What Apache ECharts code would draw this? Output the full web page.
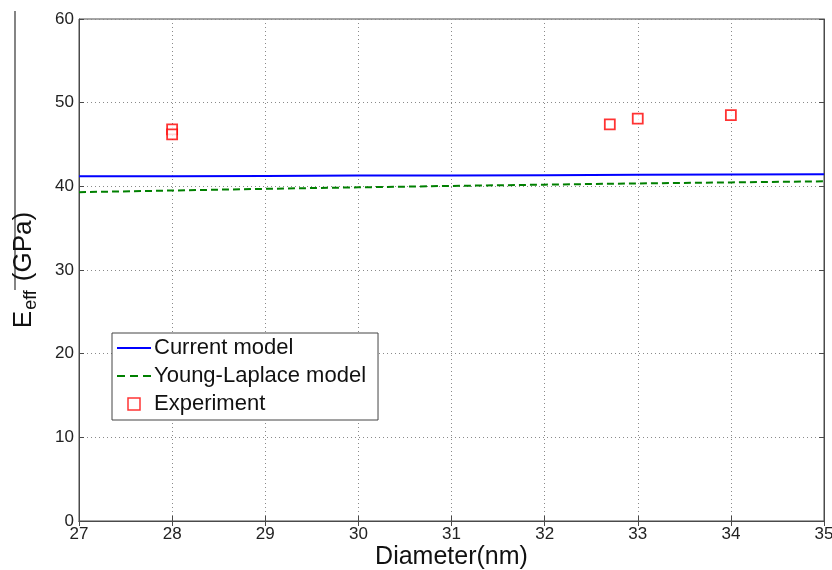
<!DOCTYPE html>
<html>
<head>
<meta charset="utf-8">
<script src="https://cdn.jsdelivr.net/npm/echarts@6/dist/echarts.min.js"></script>
<style>
  html, body { margin: 0; padding: 0; background: #fff; }
  #chart { width: 832px; height: 570px; }
</style>
</head>
<body>
<div id="chart"></div>
<script>
// Effective Young's modulus versus nanowire diameter
var diameters = [27, 28, 29, 30, 31, 32, 33, 34, 35];
var currentModel = [41.2, 41.22, 41.25, 41.28, 41.3, 41.33, 41.37, 41.4, 41.43];
var youngLaplace = [39.3, 39.5, 39.7, 39.88, 40.05, 40.2, 40.35, 40.47, 40.6];
var expDiameter = [28, 28, 32.7, 33, 34];
var expModulus = [46.8, 46.2, 47.4, 48.1, 48.5];
var xTicks = [27, 28, 29, 30, 31, 32, 33, 34, 35];
var yTicks = [0, 10, 20, 30, 40, 50, 60];

var FONT = 'Liberation Sans, Arial, sans-serif';
var AXIS = '#4a4a4a';

var chart = echarts.init(document.getElementById('chart'), null, { renderer: 'canvas' });

function pairs(xs, ys) {
  return xs.map(function (x, i) { return [x, ys[i]]; });
}

var gridLine = { show: true, lineStyle: { color: '#8a8a8a', type: [1, 3], width: 1 } };

// legend keys: a solid stroke, a three-dash stroke and an open square
var solidKey = 'path://M0,0h34v2h-34Z';
var dashKey = 'path://M0,0h8v2h-8Z M13,0h8v2h-8Z M26,0h8v2h-8Z';
var squareKey = 'path://M0,0L10,0L10,10L0,10Z';

chart.setOption({
  animation: false,
  backgroundColor: '#fff',
  grid: {
    left: 79, right: 8, top: 19, bottom: 49,
    outerBoundsMode: 'none', containLabel: false,
    show: true, borderColor: AXIS, borderWidth: 1
  },
  legend: {
    orient: 'vertical',
    left: 112, top: 333,
    backgroundColor: '#fff',
    borderColor: '#444', borderWidth: 1,
    padding: [4, 12, 5, 5],
    itemGap: 6,
    itemWidth: 34, itemHeight: 12,
    textStyle: { fontFamily: FONT, fontSize: 22, color: '#111', padding: [0, 0, 0, -2] },
    data: [
      { name: 'Current model', icon: solidKey, itemStyle: { color: '#0000ff', borderWidth: 0 } },
      { name: 'Young-Laplace model', icon: dashKey, itemStyle: { color: '#008000', borderWidth: 0 } },
      { name: 'Experiment', icon: squareKey,
        itemStyle: { color: '#fff', borderColor: '#ff0000', borderWidth: 1.5 } }
    ]
  },
  xAxis: [{
    type: 'value', min: 27, max: 35, interval: 1,
    name: 'Diameter(nm)', nameLocation: 'middle', nameGap: 24, nameMoveOverlap: false,
    nameTextStyle: { fontFamily: FONT, fontSize: 25, color: '#111', verticalAlign: 'top' },
    axisLine: { show: true, onZero: false, lineStyle: { color: AXIS } },
    axisTick: { show: true, inside: true, length: 5, lineStyle: { color: AXIS } },
    axisLabel: { fontFamily: FONT, fontSize: 17, color: '#222', margin: 5,
      formatter: function (v) { return xTicks.indexOf(v) >= 0 ? String(v) : ''; } },
    splitLine: gridLine
  }, {
    type: 'value', min: 27, max: 35, interval: 1, position: 'top',
    axisLine: { show: true, lineStyle: { color: AXIS } },
    axisTick: { show: true, inside: true, length: 5, lineStyle: { color: AXIS } },
    axisLabel: { show: false }, splitLine: { show: false }
  }],
  yAxis: [{
    type: 'value', min: 0, max: 60, interval: 10,
    name: '{e|E}{s|eff}{u|(GPa)}', nameLocation: 'middle', nameGap: 39, nameRotate: 90,
    nameTextStyle: {
      fontFamily: FONT, color: '#111',
      rich: {
        e: { fontFamily: FONT, fontSize: 26, color: '#111' },
        s: { fontFamily: FONT, fontSize: 18, color: '#111', verticalAlign: 'bottom', padding: [15, 9, 0, 1] },
        u: { fontFamily: FONT, fontSize: 26, color: '#111' }
      }
    },
    axisLine: { show: true, onZero: false, lineStyle: { color: AXIS } },
    axisTick: { show: true, inside: true, length: 5, lineStyle: { color: AXIS } },
    axisLabel: { fontFamily: FONT, fontSize: 17, color: '#222', margin: 5,
      formatter: function (v) { return yTicks.indexOf(v) >= 0 ? String(v) : ''; } },
    splitLine: gridLine
  }, {
    type: 'value', min: 0, max: 60, interval: 10, position: 'right',
    axisLine: { show: true, lineStyle: { color: AXIS } },
    axisTick: { show: true, inside: true, length: 5, lineStyle: { color: AXIS } },
    axisLabel: { show: false }, splitLine: { show: false }
  }],
  graphic: [{
    type: 'line', shape: { x1: 15, y1: 11, x2: 15, y2: 290 },
    style: { stroke: '#333', lineWidth: 1.2 }
  }],
  series: [{
    name: 'Current model', type: 'line',
    data: pairs(diameters, currentModel),
    showSymbol: false, symbol: 'none',
    lineStyle: { color: '#0000ff', width: 2 }, itemStyle: { color: '#0000ff' }
  }, {
    name: 'Young-Laplace model', type: 'line',
    data: pairs(diameters, youngLaplace),
    showSymbol: false, symbol: 'none',
    lineStyle: { color: '#008000', width: 2, type: [7, 4] }, itemStyle: { color: '#008000' }
  }, {
    name: 'Experiment', type: 'scatter',
    data: pairs(expDiameter, expModulus),
    symbol: 'rect', symbolSize: 10,
    itemStyle: { color: '#fff', borderColor: '#ff0000', borderWidth: 1.8 },
    z: 5
  }]
});
</script>
</body>
</html>
